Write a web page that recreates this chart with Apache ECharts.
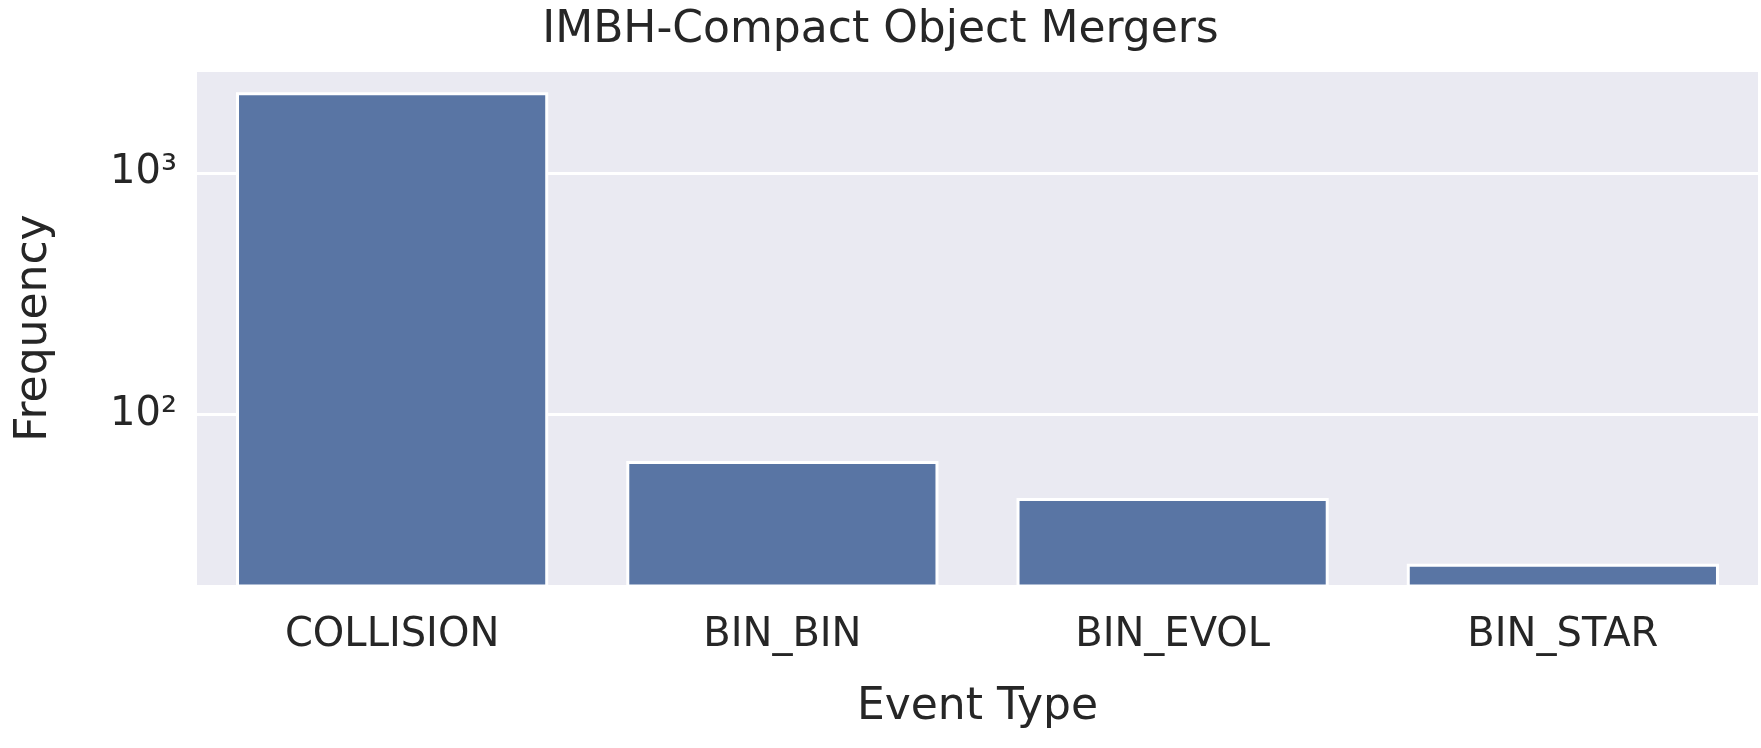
<!DOCTYPE html>
<html><head><meta charset="utf-8">
<script src="https://cdn.jsdelivr.net/npm/echarts@6/dist/echarts.min.js"></script>
<style>html,body{margin:0;background:#fff}#c{width:1761px;height:748px}</style>
</head><body><div id="c"></div>
<script>
const categories = ['COLLISION','BIN_BIN','BIN_EVOL','BIN_STAR'];
const frequency = [2165, 64, 45, 24];
const chart = echarts.init(document.getElementById('c'));
const sup = {'2':'²','3':'³','4':'⁴','1':'¹'};
chart.setOption({
  backgroundColor:'#fff',
  title:{text:'IMBH-Compact Object Mergers',left:'center',top:4,
    textStyle:{fontFamily:'DejaVu Sans',fontSize:44,fontWeight:'normal',color:'#262626'}},
  grid:{left:197,right:3,top:70,bottom:162,backgroundColor:'#eaeaf2',show:true,borderWidth:0},
  xAxis:{type:'category',data:categories,name:'Event Type',nameLocation:'middle',nameGap:100,
    nameTextStyle:{fontFamily:'DejaVu Sans',fontSize:44,color:'#262626'},
    axisLine:{show:false},axisTick:{show:false},
    axisLabel:{fontFamily:'DejaVu Sans',fontSize:40,color:'#262626',margin:30}},
  yAxis:{type:'log',logBase:10,min:19.4,max:2676,name:'Frequency',nameLocation:'middle',nameGap:140,
    nameTextStyle:{fontFamily:'DejaVu Sans',fontSize:44,color:'#262626'},
    axisLine:{show:false},axisTick:{show:false},
    splitLine:{lineStyle:{color:'#fff',width:3}},
    axisLabel:{fontFamily:'DejaVu Sans',fontSize:40,color:'#262626',margin:20,showMinLabel:false,showMaxLabel:false,
      formatter:v=>{const e=Math.round(Math.log10(v));return Math.abs(Math.log10(v)-e)<1e-6?'10'+(sup[e]||e):'';}}},
  series:[{type:'bar',data:frequency,barCategoryGap:'20%',
    itemStyle:{color:'#5975a4',borderColor:'#fff',borderWidth:3}}]
});
</script></body></html>
